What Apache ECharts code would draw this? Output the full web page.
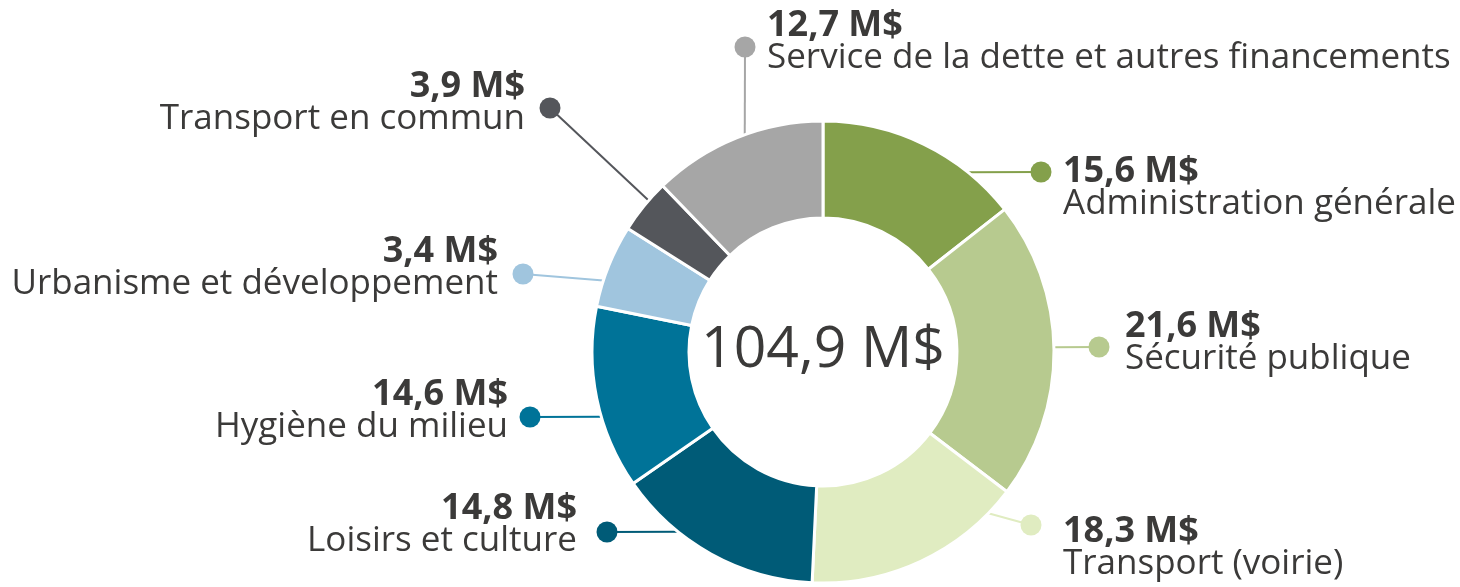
<!DOCTYPE html>
<html>
<head>
<meta charset="utf-8">
<script src="https://cdn.jsdelivr.net/npm/echarts@6/dist/echarts.min.js"></script>
<style>
  html, body { margin: 0; padding: 0; background: #fff; }
  #main { width: 1460px; height: 587px; }
</style>
</head>
<body>
<div id="main"></div>
<script>
// data
var categories = [
  'Administration générale',
  'Sécurité publique',
  'Transport (voirie)',
  'Loisirs et culture',
  'Hygiène du milieu',
  'Urbanisme et développement',
  'Transport en commun',
  'Service de la dette et autres financements'
];
// amounts printed on the labels (M$)
var values = [15.6, 21.6, 18.3, 14.8, 14.6, 3.4, 3.9, 12.7];
// share of the ring each slice takes in the picture (%)
var sliceShares = [14.4, 20.9, 15.4, 14.6, 12.8, 5.8, 3.8, 12.2];
var colors = ['#84a04b', '#b7ca8f', '#e0ecc1', '#005b77', '#007398', '#a0c5de', '#54565b', '#a6a6a6'];

// label placement (text anchor, dot position, angle where the guide leaves the ring)
var spots = [
  { align: 'left',  tx: 1063, vy: 170, dot: [1041, 172], ang: 38.9 },
  { align: 'left',  tx: 1125, vy: 325, dot: [1099, 347], ang: 88.8 },
  { align: 'left',  tx: 1063, vy: 530, dot: [1031, 525], ang: 134.3 },
  { align: 'right', tx: 577,  vy: 507, dot: [607, 532],  ang: 218.9 },
  { align: 'right', tx: 508,  vy: 393, dot: [530, 417],  ang: 253.7 },
  { align: 'right', tx: 498,  vy: 250, dot: [523, 274],  ang: 288 },
  { align: 'right', tx: 525,  vy: 85,  dot: [550, 108],  ang: 311 },
  { align: 'left',  tx: 767,  vy: 24,  dot: [745, 47],   ang: 340.2 }
];

var CX = 823, CY = 352, R_IN = 134, R_OUT = 231;
var FONT = '"Open Sans", "Noto Sans", sans-serif';
var TXT = '#3b3a39';

function fmt(v) {
  return v.toFixed(1).replace('.', ',') + ' M$';
}

var total = values.reduce(function (a, b) { return a + b; }, 0);

var chartDom = document.getElementById('main');
var myChart = echarts.init(chartDom);

var ringData = categories.map(function (name, i) {
  return {
    name: name,
    value: sliceShares[i],
    itemStyle: { color: colors[i] },
    labelLine: { lineStyle: { color: colors[i] } },
    label: {
      rich: {
        d: { width: 21, height: 21, borderRadius: 10.5, backgroundColor: colors[i] }
      }
    }
  };
});

var textData = categories.map(function (name, i) {
  return { name: name, value: sliceShares[i] };
});

var option = {
  animation: false,
  graphic: [
    {
      type: 'text',
      x: CX,
      y: CY - 1,
      style: {
        text: fmt(total),
        fill: TXT,
        font: '57px ' + FONT,
        align: 'center',
        verticalAlign: 'middle'
      }
    }
  ],
  series: [
    {
      name: 'ring',
      type: 'pie',
      center: [CX, CY],
      radius: [R_IN, R_OUT],
      startAngle: 90,
      clockwise: true,
      avoidLabelOverlap: false,
      itemStyle: { borderColor: '#fff', borderWidth: 3 },
      label: {
        show: true,
        position: 'outside',
        formatter: '{d|}'
      },
      labelLine: {
        show: true,
        showAbove: false,
        lineStyle: { width: 2 }
      },
      labelLayout: function (params) {
        var s = spots[params.dataIndex];
        var a = s.ang * Math.PI / 180;
        var start = [CX + R_OUT * Math.sin(a), CY - R_OUT * Math.cos(a)];
        return {
          x: s.dot[0],
          y: s.dot[1],
          align: 'center',
          verticalAlign: 'middle',
          labelLinePoints: [start, start, s.dot]
        };
      },
      emphasis: { disabled: true },
      data: ringData
    },
    {
      name: 'labels',
      type: 'pie',
      silent: true,
      center: [CX, CY],
      radius: [R_IN, R_OUT],
      startAngle: 90,
      clockwise: true,
      avoidLabelOverlap: false,
      itemStyle: { color: 'rgba(0,0,0,0)' },
      label: {
        show: true,
        position: 'outside',
        formatter: function (p) {
          return '{v|' + fmt(values[p.dataIndex]) + '}\n{n|' + p.name + '}';
        },
        rich: {
          v: { fontFamily: FONT, fontWeight: 'bold', fontSize: 36, lineHeight: 32, color: TXT },
          n: { fontFamily: FONT, fontSize: 35, lineHeight: 32, color: TXT }
        }
      },
      labelLine: { show: false },
      labelLayout: function (params) {
        var s = spots[params.dataIndex];
        return {
          x: s.tx,
          y: s.vy - 14,
          align: s.align,
          verticalAlign: 'top'
        };
      },
      emphasis: { disabled: true },
      data: textData
    }
  ]
};

myChart.setOption(option);

window.addEventListener('resize', function () { myChart.resize(); });
</script>
</body>
</html>
